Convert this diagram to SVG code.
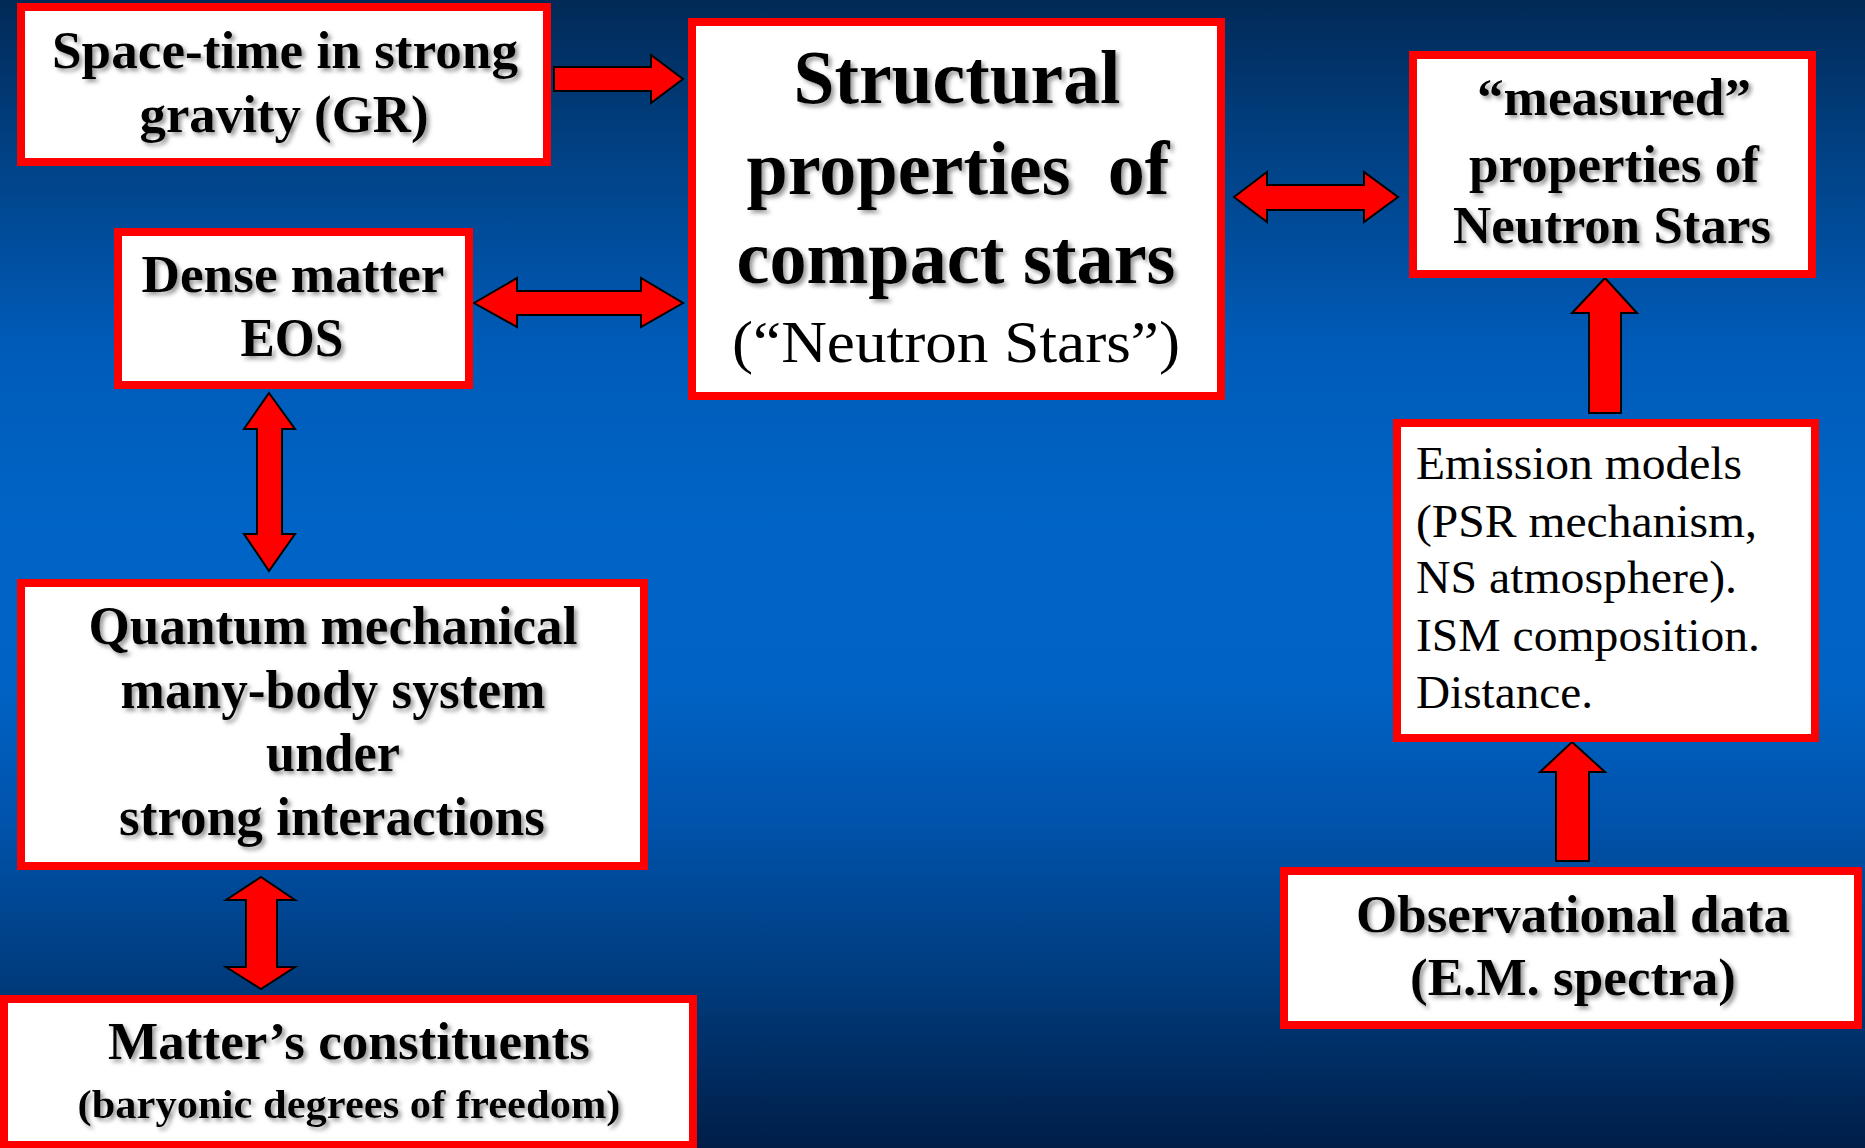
<svg xmlns="http://www.w3.org/2000/svg" width="1865" height="1148" viewBox="0 0 1865 1148">
<defs>
<linearGradient id="bg" x1="0" y1="0" x2="0" y2="1">
<stop offset="0" stop-color="#022956"/>
<stop offset="0.12" stop-color="#013f80"/>
<stop offset="0.3" stop-color="#005bb8"/>
<stop offset="0.45" stop-color="#0064c6"/>
<stop offset="0.6" stop-color="#0062c4"/>
<stop offset="0.72" stop-color="#0052aa"/>
<stop offset="0.85" stop-color="#003c7e"/>
<stop offset="1" stop-color="#001e48"/>
</linearGradient>
<filter id="sh" x="-5%" y="-20%" width="115%" height="150%">
<feDropShadow dx="3" dy="3" stdDeviation="2" flood-color="#777" flood-opacity="0.75"/>
</filter>
<style>
.box{fill:#fff;stroke:#ff0000;stroke-width:8}
.arr{fill:#ff0000;stroke:#000;stroke-width:2;stroke-linejoin:miter}
.b{font-family:"Liberation Serif","Times New Roman",serif;font-weight:bold;fill:#000;text-anchor:middle;filter:url(#sh)}
.r{font-family:"Liberation Serif","Times New Roman",serif;fill:#000}
</style>
</defs>
<rect x="0" y="0" width="1865" height="1148" fill="url(#bg)"/>

<g id="connectors">
<polygon class="arr" points="554,67 651,67 651,55 683,79 651,103 651,91 554,91"/>
<polygon class="arr" points="474,303 517,278 517,291 641,291 641,278 683,303 641,327 641,315 517,315 517,327"/>
<polygon class="arr" points="1234,197 1267,172 1267,185 1364,185 1364,172 1398,197 1364,222 1364,210 1267,210 1267,222"/>
<polygon class="arr" points="1605,278 1637,313 1621,313 1621,413 1589,413 1589,313 1572,313"/>
<polygon class="arr" points="1572,742 1605,772 1589,772 1589,861 1556,861 1556,772 1540,772"/>
<polygon class="arr" points="269,393 295,429 282,429 282,534 295,534 269,571 244,534 257,534 257,429 244,429"/>
<polygon class="arr" points="261,877 295,900 277,900 277,967 295,967 261,989 226,967 246,967 246,900 226,900"/>
</g>

<g id="node-spacetime">
<rect class="box" x="21" y="7" width="526" height="155"/>
<text class="b" font-size="53" x="285" y="68" textLength="466" lengthAdjust="spacingAndGlyphs">Space-time in strong</text>
<text class="b" font-size="53" x="284" y="132" textLength="289" lengthAdjust="spacingAndGlyphs">gravity (GR)</text>
</g>

<g id="node-structural">
<rect class="box" x="692" y="22" width="529" height="374"/>
<text class="b" font-size="76" x="957" y="103" textLength="327" lengthAdjust="spacingAndGlyphs">Structural</text>
<text class="b" font-size="76" x="958" y="194" textLength="423" lengthAdjust="spacingAndGlyphs" xml:space="preserve">properties  of</text>
<text class="b" font-size="76" x="956" y="283" textLength="439" lengthAdjust="spacingAndGlyphs">compact stars</text>
<text class="r" font-size="60" x="956" y="362" text-anchor="middle" textLength="448" lengthAdjust="spacingAndGlyphs">(“Neutron Stars”)</text>
</g>

<g id="node-measured">
<rect class="box" x="1413" y="55" width="399" height="219"/>
<text class="b" font-size="53" x="1614" y="115" textLength="274" lengthAdjust="spacingAndGlyphs">“measured”</text>
<text class="b" font-size="53" x="1614" y="182" textLength="290" lengthAdjust="spacingAndGlyphs">properties of</text>
<text class="b" font-size="53" x="1612" y="243" textLength="318" lengthAdjust="spacingAndGlyphs">Neutron Stars</text>
</g>

<g id="node-dense">
<rect class="box" x="118" y="232" width="351" height="153"/>
<text class="b" font-size="53" x="293" y="292" textLength="303" lengthAdjust="spacingAndGlyphs">Dense matter</text>
<text class="b" font-size="54" x="292" y="356" textLength="103" lengthAdjust="spacingAndGlyphs">EOS</text>
</g>

<g id="node-emission">
<rect class="box" x="1397" y="423" width="418" height="315"/>
<text class="r" font-size="46" x="1416" y="479" textLength="326" lengthAdjust="spacingAndGlyphs">Emission models</text>
<text class="r" font-size="46" x="1416" y="537" textLength="341" lengthAdjust="spacingAndGlyphs">(PSR mechanism,</text>
<text class="r" font-size="46" x="1416" y="593" textLength="321" lengthAdjust="spacingAndGlyphs">NS atmosphere).</text>
<text class="r" font-size="46" x="1416" y="651" textLength="344" lengthAdjust="spacingAndGlyphs">ISM composition.</text>
<text class="r" font-size="46" x="1416" y="708" textLength="177" lengthAdjust="spacingAndGlyphs">Distance.</text>
</g>

<g id="node-quantum">
<rect class="box" x="21" y="583" width="623" height="283"/>
<text class="b" font-size="54" x="333" y="644" textLength="489" lengthAdjust="spacingAndGlyphs">Quantum mechanical</text>
<text class="b" font-size="54" x="333" y="708" textLength="425" lengthAdjust="spacingAndGlyphs">many-body system</text>
<text class="b" font-size="54" x="333" y="771" textLength="134" lengthAdjust="spacingAndGlyphs">under</text>
<text class="b" font-size="54" x="332" y="835" textLength="426" lengthAdjust="spacingAndGlyphs">strong interactions</text>
</g>

<g id="node-matter">
<rect class="box" x="4" y="999" width="689" height="146"/>
<text class="b" font-size="52" x="349" y="1059" textLength="482" lengthAdjust="spacingAndGlyphs">Matter’s constituents</text>
<text class="b" font-size="41" x="349" y="1118" textLength="543" lengthAdjust="spacingAndGlyphs">(baryonic degrees of freedom)</text>
</g>

<g id="node-observational">
<rect class="box" x="1284" y="871" width="574" height="154"/>
<text class="b" font-size="53" x="1573" y="932" textLength="434" lengthAdjust="spacingAndGlyphs">Observational data</text>
<text class="b" font-size="53" x="1573" y="995" textLength="326" lengthAdjust="spacingAndGlyphs">(E.M. spectra)</text>
</g>
</svg>
